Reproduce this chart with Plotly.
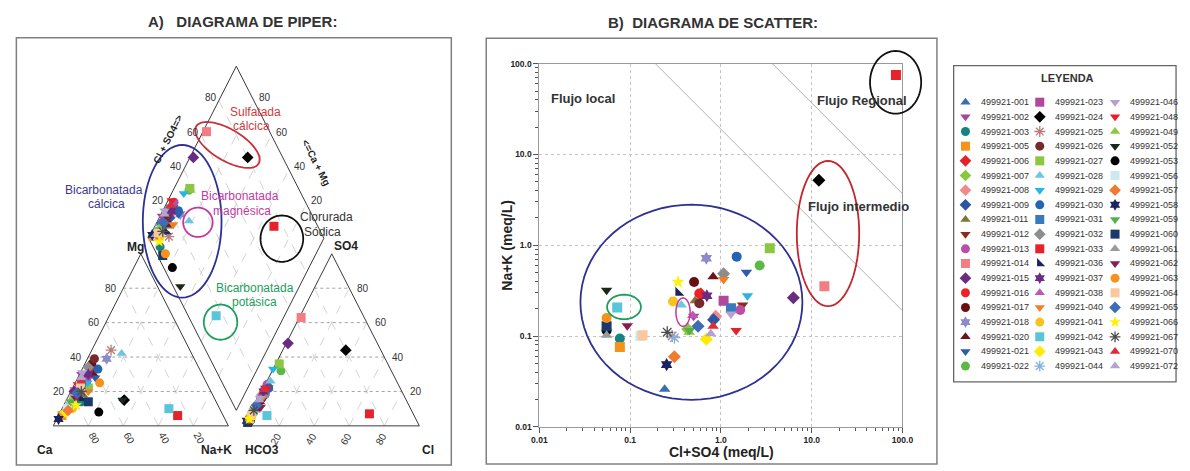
import numpy as np
import plotly.graph_objects as go

W, H = 1190, 471
FONT = "Arial, Liberation Sans, sans-serif"

# ---------------- data ----------------
sample_ids = ["001", "002", "003", "005", "006", "007", "008", "009", "011", "012", "013", "014", "015", "016", "017", "018", "020", "021", "022",
              "023", "024", "025", "026", "027", "028", "029", "030", "031", "032", "033", "036", "037", "038", "040", "041", "042", "043", "044",
              "046", "048", "049", "052", "053", "056", "057", "058", "059", "060", "061", "062", "063", "064", "065", "066", "067", "070", "072"]

symbols = ["triangle-up", "triangle-down", "circle", "square", "diamond", "diamond", "diamond", "diamond", "triangle-up", "triangle-down",
           "circle", "square", "diamond", "circle", "circle", "hexagram", "triangle-up", "triangle-down", "circle",
           "square", "diamond", "asterisk-open", "circle", "square", "triangle-up", "triangle-down", "circle", "square", "diamond",
           "square", "triangle-sw", "hexagram", "triangle-up", "triangle-down", "circle", "square", "diamond", "asterisk-open",
           "triangle-down", "triangle-down", "triangle-up", "triangle-down", "circle", "square", "diamond", "hexagram", "triangle-down",
           "square", "triangle-up", "triangle-down", "circle", "square", "diamond", "star", "asterisk-open", "triangle-up", "triangle-up"]

colors = ["#3A6DB5", "#A8459C", "#168282", "#F5921E", "#E4202A", "#8CC63F", "#F28A8C", "#2A56A5", "#807536", "#8A2B1E",
          "#BA4DA4", "#F27E84", "#6A2C82", "#EC2227", "#6A1013", "#8B8BCB", "#6E1317", "#2D5CA8", "#5CB947",
          "#B3479B", "#000000", "#B97C7C", "#772A2C", "#8DC640", "#6DC6DE", "#27B5E8", "#2464B0", "#3A79BE", "#8D8D8D",
          "#E6232A", "#1B2460", "#6A2C82", "#C157B1", "#F07F28", "#F8C21F", "#5AC4D9", "#FFEA00", "#86B1DE",
          "#B4A1D0", "#E6202A", "#8DC63F", "#1A281C", "#000000", "#CDE8F2", "#EE7D31", "#1B2460", "#57AF4A",
          "#1B3A6C", "#9A9A9A", "#8B1B4F", "#F7911E", "#F9C89D", "#3D6DB5", "#FFF200", "#4D4D4D", "#E12B36", "#B4A2D0"]

# Scatter diagram values (meq/L)
cl_so4_meq = [0.24, 0.50, 0.077, 0.077, 0.60, 0.43, 0.875, 0.83, 0.52, 1.73, 1.63, 13.8, 6.28, 0.578, 0.506, 0.69, 0.82, 1.91, 2.67,
              1.07, 12.0, 0.29, 0.578, 3.45, 0.366, 1.96, 1.49, 1.29, 1.07, 84.7, 0.34, 0.70, 0.49, 1.07, 0.297, 0.072, 0.69, 0.307,
              1.29, 1.47, 0.447, 0.055, 0.055, 0.13, 0.307, 0.252, 0.45, 0.055, 0.055, 0.093, 0.055, 0.137, 0.56, 0.337, 0.256, 0.82, 0.773]
na_k_meq = [0.026, 0.165, 0.094, 0.076, 0.29, 0.12, 0.165, 0.151, 0.245, 0.22, 0.194, 0.354, 0.264, 0.295, 0.394, 0.72, 0.45, 0.506, 0.60,
            0.245, 5.2, 0.10, 0.23, 0.93, 0.22, 0.278, 0.75, 0.203, 0.485, 75.0, 0.30, 0.278, 0.169, 0.42, 0.24, 0.206, 0.092, 0.096,
            0.175, 0.115, 0.11, 0.32, 0.115, 0.10, 0.059, 0.0485, 0.115, 0.128, 0.102, 0.13, 0.158, 0.102, 0.128, 0.394, 0.11, 0.128, 0.106]

# Piper percentages (cations: Mg, Na+K ; anions: SO4, Cl) - Ca and HCO3 are the remainders
mg_pct = [8, 30, 14, 6, 28, 12, 26, 22, 18, 24, 27, 20, 20, 33, 36, 39, 30, 28, 22,
          26, 15, 44, 39, 22, 42, 25, 33, 24, 34, 6, 16, 30, 24, 20, 10, 10, 8, 12,
          31, 24, 16, 15, 8, 10, 9, 4, 14, 14, 18, 16, 25, 23, 19, 12, 20, 26, 28]
nak_pct = [2, 1, 9, 2, 5, 4, 5, 6, 8, 5, 4, 2, 2, 6, 4, 11, 8, 10, 9,
           6, 33, 11, 4, 9, 18, 7, 9, 4, 3, 68, 8, 5, 3, 10, 6, 61, 3, 3,
           1, 2, 3, 32, 22, 3, 4, 1, 3, 13, 3, 5, 14, 4, 4, 7, 6, 3, 2]
so4_pct = [10, 12, 3, 2, 20, 8, 18, 16, 14, 22, 24, 63, 48, 20, 12, 22, 14, 22, 32,
           20, 44, 10, 16, 36, 26, 33, 22, 19, 18, 7, 10, 20, 12, 16, 6, 6, 5, 8,
           16, 22, 8, 3, 3, 4, 5, 3, 7, 2, 4, 11, 4, 6, 12, 4, 9, 21, 15]
cl_pct = [1, 2, 1, 1, 2, 1, 1, 2, 1, 1, 1, 1, 1, 2, 2, 3, 2, 2, 5,
          2, 36, 2, 2, 2, 2, 0, 3, 2, 2, 68, 2, 1, 1, 2, 1, 10, 1, 1,
          1, 2, 1, 1, 2, 1, 1, 0, 1, 1, 1, 4, 1, 1, 1, 1, 1, 1, 1]

grid_levels = [20, 40, 60, 80]
flow_limits = [19, 370]          # Cl+SO4 * Na+K boundaries between flow types
decades = [0.01, 0.1, 1, 10, 100]
decade_labels = ["0.01", "0.1", "1.0", "10.0", "100.0"]

# ---------------- piper geometry ----------------
X0, SX, Y0, SY = 46.0, 178.0, 430.0, 203.0
G = 0.09
HT = np.sqrt(3) / 2


def cat_xy(mg, na):
    mg, na = np.asarray(mg, float) / 100, np.asarray(na, float) / 100
    return na + mg / 2, mg * HT


def an_xy(so4, cl):
    so4, cl = np.asarray(so4, float) / 100, np.asarray(cl, float) / 100
    return 1 + G + cl + so4 / 2, so4 * HT


def dia_xy(na, cs):
    na, cs = np.asarray(na, float) / 100, np.asarray(cs, float) / 100
    return (1 + G + cs + na) / 2, (1 + G + cs - na) * HT


def to_px(u, v):
    return X0 + SX * u, Y0 - SY * v


fig = go.Figure()


def seg_trace(segs, color, width, dash):
    xs, ys = [], []
    for (a, b) in segs:
        xs += [float(a[0]), float(b[0]), None]
        ys += [float(a[1]), float(b[1]), None]
    fig.add_trace(go.Scatter(x=xs, y=ys, mode="lines", xaxis="x2", yaxis="y2", hoverinfo="skip",
                             line=dict(color=color, width=width, dash=dash), showlegend=False))


# grid lines
horiz, slant, dgrid = [], [], []
for k in grid_levels:
    horiz.append((cat_xy(k, 0), cat_xy(k, 100 - k)))
    slant.append((cat_xy(0, k), cat_xy(100 - k, k)))
    slant.append((cat_xy(0, 100 - k), cat_xy(100 - k, 0)))
    horiz.append((an_xy(k, 0), an_xy(k, 100 - k)))
    slant.append((an_xy(0, k), an_xy(100 - k, k)))
    slant.append((an_xy(0, 100 - k), an_xy(100 - k, 0)))
    dgrid.append((dia_xy(k, 0), dia_xy(k, 100)))
    dgrid.append((dia_xy(0, k), dia_xy(100, k)))
seg_trace(slant, "#c8c8c8", 0.8, "dash")
seg_trace(dgrid, "#c8c8c8", 0.8, "dash")
seg_trace(horiz, "#8a8a8a", 0.8, "dot")

# outlines
outl = [
    [cat_xy(0, 0), cat_xy(0, 100), cat_xy(100, 0), cat_xy(0, 0)],
    [an_xy(0, 0), an_xy(0, 100), an_xy(100, 0), an_xy(0, 0)],
    [dia_xy(0, 0), dia_xy(0, 100), dia_xy(100, 100), dia_xy(100, 0), dia_xy(0, 0)],
]
for poly in outl:
    fig.add_trace(go.Scatter(x=[float(p[0]) for p in poly], y=[float(p[1]) for p in poly], mode="lines",
                             xaxis="x2", yaxis="y2", hoverinfo="skip", showlegend=False,
                             line=dict(color="#3a3a3a", width=1)))

# scatter flow boundary lines
for k in flow_limits:
    xs = np.geomspace(k / 100.0, 100, 50)
    fig.add_trace(go.Scatter(x=xs, y=k / xs, mode="lines", xaxis="x", yaxis="y", hoverinfo="skip",
                             line=dict(color="#9a9a9a", width=0.8), showlegend=False))

# samples
n = len(sample_ids)
for i in range(n):
    cx, cy = cat_xy(mg_pct[i], nak_pct[i])
    ax_, ay_ = an_xy(so4_pct[i], cl_pct[i])
    dx, dy = dia_xy(nak_pct[i], so4_pct[i] + cl_pct[i])
    sym = symbols[i]
    is_ast = sym.startswith("asterisk")
    mk = dict(symbol=sym, color=colors[i], line=dict(color=colors[i], width=1.3 if is_ast else 0))
    fig.add_trace(go.Scatter(x=[float(cx), float(ax_), float(dx)], y=[float(cy), float(ay_), float(dy)],
                             mode="markers", xaxis="x2", yaxis="y2", name="499921-" + sample_ids[i],
                             marker=dict(mk, size=9), showlegend=False))
    fig.add_trace(go.Scatter(x=[cl_so4_meq[i]], y=[na_k_meq[i]], mode="markers", xaxis="x", yaxis="y",
                             name="499921-" + sample_ids[i], marker=dict(mk, size=10), showlegend=False))
    col, row = i // 19, i % 19
    lx = [973.0, 1048.5, 1125.0][col]
    ly = 99.3 + 14.98 * row
    fig.add_trace(go.Scatter(x=[lx], y=[ly], mode="markers", xaxis="x3", yaxis="y3", hoverinfo="skip",
                             marker=dict(mk, size=9), showlegend=False))

# ---------------- annotations ----------------
annotations = []


def add_text(px, py, text, size=10, color="#333333", bold=False, angle=0, xanchor="center", yanchor="middle"):
    annotations.append(dict(x=px / W, y=1 - py / H, xref="paper", yref="paper", text=text, showarrow=False,
                            font=dict(family=FONT, size=size, color=color, weight="bold" if bold else "normal"),
                            textangle=angle, xanchor=xanchor, yanchor=yanchor))


add_text(238, 17, "A)&nbsp;&nbsp; DIAGRAMA DE PIPER:", 15, "#333333", True)
add_text(716, 18, "B)&nbsp; DIAGRAMA DE SCATTER:", 15, "#333333", True)

# legend labels
for i in range(n):
    col, row = i // 19, i % 19
    add_text([987.0, 1062.0, 1138.0][col], 99.3 + 14.98 * row, "499921-" + sample_ids[i], 9, "#333333",
             xanchor="left")
add_text(1077, 75, "LEYENDA", 11, "#333333", True)

# piper tick labels
for k in grid_levels:
    px, py = to_px(*cat_xy(k, 0))
    add_text(px - 4, py, str(k), 10, "#333333", xanchor="right")
    px, py = to_px(*an_xy(k, 100 - k))
    add_text(px + 6, py, str(k), 10, "#333333", xanchor="left")
    px, py = to_px(*cat_xy(0, 100 - k))
    add_text(px + 6, 443, str(k), 10, "#333333", angle=60)
    px, py = to_px(*an_xy(0, k))
    add_text(px - 3, 443, str(k), 10, "#333333", angle=-60)
    px, py = to_px(*dia_xy(0, k))
    add_text(px - 8, py - 3, str(k), 10, "#333333")
    px, py = to_px(*dia_xy(100 - k, 100))
    add_text(px + 11, py - 3, str(k), 10, "#333333")

add_text(162, 137, "Cl + SO4=&gt;", 10, "#222222", True, angle=-63)
add_text(313, 161, "&lt;=Ca + Mg", 10, "#222222", True, angle=63)
add_text(130, 247, "Mg", 12, "#222222", True)
add_text(343, 246, "SO4", 12, "#222222", True)
add_text(38, 455, "Ca", 12, "#222222", True)
add_text(212, 455, "Na+K", 12, "#222222", True)
add_text(258, 455, "HCO3", 12, "#222222", True)
add_text(427, 455, "Cl", 12, "#222222", True)

RED, NAVY, MAG, BLK, GRN = "#D33A40", "#2E3192", "#C23AA0", "#333333", "#1E9E5E"
add_text(252, 109, "Sulfatada", 12, RED)
add_text(247, 124, "cálcica", 12, RED)
add_text(98, 189, "Bicarbonatada", 12, "#3A3A8C")
add_text(100, 203, "cálcica", 12, "#3A3A8C")
add_text(236, 195, "Bicarbonatada", 12, MAG)
add_text(238, 210, "magnésica", 12, MAG)
add_text(324, 217, "Clorurada", 12, BLK)
add_text(320, 232, "Sódica", 12, BLK)
add_text(251, 289, "Bicarbonatada", 12, GRN)
add_text(251, 303, "potásica", 12, GRN)

# scatter texts
add_text(550, 96, "Flujo local", 13, "#333333", True, xanchor="left")
add_text(820, 98, "Flujo Regional", 13, "#333333", True, xanchor="left")
add_text(811, 206, "Flujo intermedio", 13, "#333333", True, xanchor="left")
add_text(725, 457, "Cl+SO4 (meq/L)", 14, "#222222", True)
add_text(507, 245, "Na+K (meq/L)", 14, "#222222", True, angle=-90)

# ---------------- shapes ----------------
shapes = []


def rect(x0, y0, x1, y1, color="#808080", width=1.5):
    shapes.append(dict(type="rect", xref="paper", yref="paper", x0=x0 / W, x1=x1 / W, y0=1 - y1 / H, y1=1 - y0 / H,
                       line=dict(color=color, width=width), fillcolor="rgba(0,0,0,0)"))


def ellipse(cx, cy, rx, ry, color, width=1.8, angle=0.0):
    t = np.linspace(0, 2 * np.pi, 73)
    a = np.deg2rad(angle)
    xs = cx + rx * np.cos(t) * np.cos(a) - ry * np.sin(t) * np.sin(a)
    ys = cy + rx * np.cos(t) * np.sin(a) + ry * np.sin(t) * np.cos(a)
    path = "M " + " L ".join(f"{x / W:.5f},{1 - y / H:.5f}" for x, y in zip(xs, ys)) + " Z"
    shapes.append(dict(type="path", xref="paper", yref="paper", path=path, line=dict(color=color, width=width)))


rect(8.5, 33.5, 450.5, 470)
rect(486, 34, 944, 469)
rect(961, 62, 1187, 385, "#666666", 1.3)

# piper ellipses
ellipse(223, 143, 37, 16, "#C8323A", 1.8, 31)
ellipse(177, 221, 40, 78, NAVY, 1.8, 0)
ellipse(193, 222, 15, 15, MAG, 1.8)
ellipse(278.3, 238.7, 21.7, 23.7, "#111111", 1.8)
ellipse(216, 324, 17, 18, GRN, 1.8)
# scatter ellipses
ellipse(694.5, 303.7, 112.8, 99.7, NAVY, 1.8)
ellipse(902, 79, 26, 32, "#111111", 1.8)
ellipse(833.3, 233.5, 31.7, 74.2, "#C1272D", 1.8)
ellipse(626, 308.5, 17.2, 12.5, GRN, 1.8)
ellipse(686, 313.8, 7.2, 14.5, MAG, 1.5)

minor_vals = [m * 10.0 ** e for e in range(-2, 2) for m in range(2, 10)]
axis_common = dict(type="log", range=[-2, 2], tickmode="array", tickvals=decades, ticktext=decade_labels,
                   ticks="outside", ticklen=5, tickwidth=1, tickcolor="#555555",
                   showline=True, linecolor="#9a9a9a", linewidth=1, mirror=True,
                   showgrid=True, gridcolor="#c4c4c4", griddash="dot", gridwidth=1, zeroline=False,
                   tickfont=dict(family=FONT, size=8.5, color="#222222", weight="bold"),
                   minor=dict(tickmode="array", tickvals=minor_vals, ticks="outside", ticklen=3,
                              tickcolor="#555555", showgrid=False),
                   fixedrange=True)

fig.update_layout(
    width=W, height=H, margin=dict(l=0, r=0, t=0, b=0),
    paper_bgcolor="white", plot_bgcolor="rgba(0,0,0,0)", showlegend=False,
    xaxis=dict(axis_common, domain=[540 / W, 909 / W], anchor="y"),
    yaxis=dict(axis_common, domain=[1 - 431 / H, 1 - 60 / H], anchor="x"),
    xaxis2=dict(domain=[0, 1], range=[(0 - X0) / SX, (W - X0) / SX], visible=False, anchor="y2", fixedrange=True),
    yaxis2=dict(domain=[0, 1], range=[(Y0 - H) / SY, Y0 / SY], visible=False, anchor="x2", fixedrange=True),
    xaxis3=dict(domain=[0, 1], range=[0, W], visible=False, anchor="y3", fixedrange=True),
    yaxis3=dict(domain=[0, 1], range=[H, 0], visible=False, anchor="x3", fixedrange=True),
    annotations=annotations, shapes=shapes,
)

fig.write_html("out.html")
